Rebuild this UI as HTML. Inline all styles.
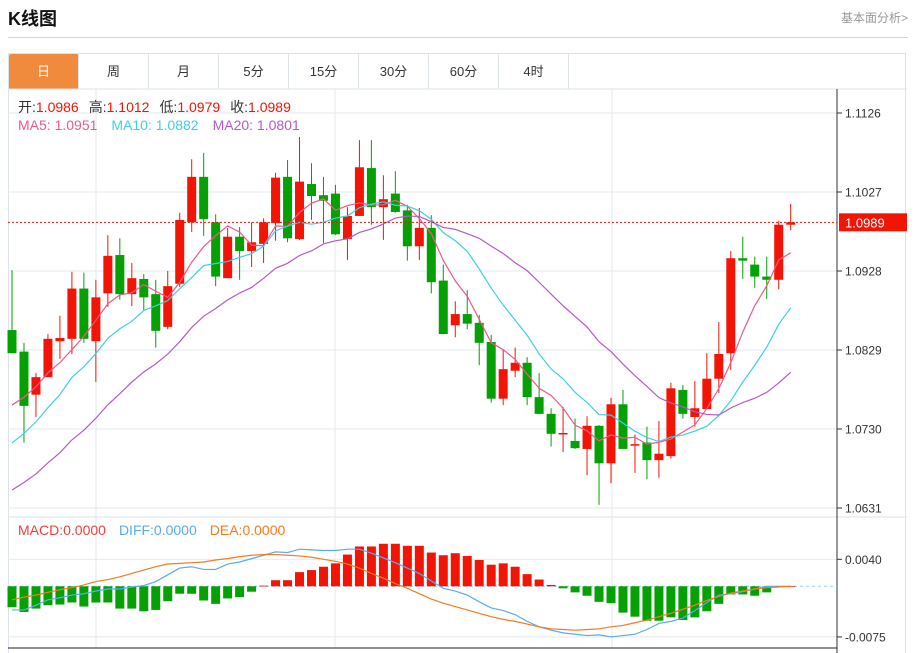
<!DOCTYPE html>
<html><head><meta charset="utf-8">
<style>
body{margin:0;background:#fff;font-family:"Liberation Sans","Noto Sans CJK SC",sans-serif;}
#wrap{position:relative;width:920px;height:653px;overflow:hidden;}
.title{position:absolute;left:8px;top:5px;font-size:18px;font-weight:bold;color:#111;}
.more{position:absolute;right:12px;top:9px;font-size:12px;color:#999;}
.hr{position:absolute;left:8px;width:900px;top:37px;height:1px;background:#d5d5d5;}
.box{position:absolute;left:8px;top:53px;width:898px;height:600px;border:1px solid #dde3ea;border-bottom:none;box-sizing:border-box;}
.tabs{position:absolute;left:9px;top:54px;height:35px;display:flex;}
.tab{width:69px;height:35px;border-right:1px solid #dde3ea;text-align:center;line-height:35px;font-size:13px;color:#333;}
.tab.on{background:#f08a3d;color:#fff;border-radius:2px 2px 0 0;}
svg{position:absolute;left:0;top:0;}
</style></head><body>
<div id="wrap">
<div class="title">K线图</div>
<div class="more">基本面分析&gt;</div>
<div class="hr"></div>
<div class="box"></div>
<div class="tabs">
<div class="tab on">日</div>
<div class="tab">周</div>
<div class="tab">月</div>
<div class="tab">5分</div>
<div class="tab">15分</div>
<div class="tab">30分</div>
<div class="tab">60分</div>
<div class="tab">4时</div>
</div>
<svg id="chart" width="920" height="653"></svg>
</div>
<script>
const opens=[1.0854,1.0827,1.0773,1.0795,1.0840,1.0843,1.0906,1.0840,1.0900,1.0948,1.0899,1.0918,1.0899,1.0858,1.0912,1.0989,1.1046,1.0989,1.0919,1.0971,1.0953,1.0962,1.0988,1.1046,1.0968,1.1037,1.1023,1.1025,1.0968,1.0997,1.1057,1.1008,1.1025,1.1004,1.0959,1.0982,1.0916,1.0860,1.0874,1.0863,1.0839,1.0768,1.0803,1.0813,1.0770,1.0749,1.0724,1.0715,1.0705,1.0734,1.0687,1.0761,1.0710,1.0713,1.0691,1.0696,1.0779,1.0745,1.0755,1.0793,1.0825,1.0944,1.0936,1.0921,1.0917,1.0986];
const closes=[1.0825,1.0759,1.0795,1.0843,1.0844,1.0906,1.0843,1.0895,1.0947,1.0899,1.0919,1.0895,1.0853,1.0909,1.0992,1.1046,1.0993,1.0921,1.0971,1.0953,1.0964,1.0989,1.1045,1.0969,1.1040,1.1022,1.1016,1.0974,1.0997,1.1058,1.1008,1.1018,1.1002,1.0959,1.0982,1.0914,1.0849,1.0874,1.0862,1.0838,1.0768,1.0805,1.0813,1.0770,1.0749,1.0724,1.0725,1.0706,1.0734,1.0687,1.0761,1.0705,1.0711,1.0691,1.0699,1.0781,1.0749,1.0756,1.0793,1.0824,1.0944,1.0941,1.0921,1.0917,1.0986,1.0989];
const highs=[1.0929,1.0838,1.0800,1.0849,1.0872,1.0927,1.0926,1.0917,1.0973,1.0969,1.0938,1.0924,1.0917,1.0928,1.1001,1.1068,1.1076,1.0999,1.0982,1.0983,1.0989,1.0994,1.1051,1.1067,1.1096,1.1063,1.1046,1.1036,1.1008,1.1092,1.1092,1.1048,1.1053,1.1011,1.1007,1.0998,1.0936,1.0890,1.0904,1.0873,1.0848,1.0829,1.0832,1.0820,1.0800,1.0756,1.0758,1.0743,1.0746,1.0735,1.0769,1.0779,1.0723,1.0733,1.0740,1.0788,1.0785,1.0790,1.0825,1.0864,1.0953,1.0971,1.0946,1.0946,1.0991,1.1012];
const lows=[1.0825,1.0713,1.0745,1.0795,1.0818,1.0824,1.0838,1.0789,1.0883,1.0892,1.0884,1.0879,1.0832,1.0855,1.0908,1.0977,1.0972,1.0909,1.0919,1.0917,1.0933,1.0938,1.0966,1.0964,1.0967,1.0992,1.0963,1.0973,1.0942,1.0997,1.0986,1.0967,1.1001,1.0941,1.0942,1.0900,1.0849,1.0845,1.0855,1.0810,1.0763,1.0760,1.0795,1.0760,1.0749,1.0708,1.0701,1.0705,1.0672,1.0635,1.0662,1.0705,1.0675,1.0667,1.0669,1.0693,1.0743,1.0733,1.0755,1.0775,1.0804,1.0918,1.0907,1.0893,1.0905,1.0979];
const priorCloses=[1.0570,1.0580,1.0565,1.0590,1.0585,1.0600,1.0595,1.0610,1.0620,1.0630,1.0640,1.0650,1.0665,1.0680,1.0690,1.0710,1.0730,1.0755,1.0780];
const priceTicks=[1.1126,1.1027,1.0928,1.0829,1.0730,1.0631];
const macdBars=[-0.0031,-0.0038,-0.0033,-0.0028,-0.0027,-0.0024,-0.0030,-0.0024,-0.0024,-0.0033,-0.0033,-0.0037,-0.0035,-0.0022,-0.0011,-0.0011,-0.0021,-0.0026,-0.0018,-0.0016,-0.0008,0.0001,0.0009,0.0009,0.0021,0.0024,0.0029,0.0034,0.0047,0.0059,0.0059,0.0063,0.0063,0.0060,0.0060,0.0050,0.0046,0.0049,0.0045,0.0039,0.0032,0.0034,0.0029,0.0018,0.0010,0.0002,-0.0003,-0.0009,-0.0014,-0.0023,-0.0025,-0.0039,-0.0045,-0.0051,-0.0051,-0.0046,-0.0050,-0.0046,-0.0037,-0.0026,-0.0012,-0.0012,-0.0014,-0.0009,-0.0001,0];
const diffVals=[-0.0035,-0.0035,-0.0028,-0.0020,-0.0017,-0.0013,-0.0011,-0.0007,-0.0004,-0.0004,-0.0001,0.0001,0.0007,0.0017,0.0027,0.0029,0.0025,0.0025,0.0033,0.0036,0.0041,0.0046,0.0051,0.0050,0.0055,0.0054,0.0053,0.0053,0.0055,0.0055,0.0049,0.0042,0.0035,0.0027,0.0019,0.0008,-0.0003,-0.0007,-0.0013,-0.0023,-0.0032,-0.0036,-0.0042,-0.0052,-0.0060,-0.0065,-0.0069,-0.0071,-0.0073,-0.0072,-0.0075,-0.0073,-0.0071,-0.0064,-0.0055,-0.0052,-0.0047,-0.0036,-0.0024,-0.0013,-0.0011,-0.0008,-0.0004,0,0,0];
const deaVals=[-0.0020,-0.0016,-0.0013,-0.0009,-0.0005,-0.0002,0.0002,0.0007,0.0010,0.0014,0.0019,0.0024,0.0029,0.0033,0.0034,0.0035,0.0036,0.0039,0.0041,0.0044,0.0046,0.0047,0.0047,0.0046,0.0045,0.0043,0.0040,0.0037,0.0033,0.0027,0.0019,0.0012,0.0004,-0.0003,-0.0011,-0.0019,-0.0025,-0.0030,-0.0035,-0.0040,-0.0045,-0.0049,-0.0052,-0.0056,-0.0060,-0.0063,-0.0064,-0.0065,-0.0064,-0.0063,-0.0060,-0.0058,-0.0054,-0.0050,-0.0045,-0.0040,-0.0034,-0.0028,-0.0021,-0.0015,-0.0010,-0.0007,-0.0004,-0.0002,-0.0001,0];
const macdTicks=[0.0040,-0.0075];

const NS='http://www.w3.org/2000/svg';
const svg=document.getElementById('chart');
function mk(tag,attrs,parent){const e=document.createElementNS(NS,tag);for(const k in attrs)e.setAttribute(k,attrs[k]);(parent||svg).appendChild(e);return e;}
const RED='#f21405',GREEN='#04a004';
const xOf=i=>12+i*11.98;
const yP=v=>113+(1.1126-v)/0.0495*395;
const yM=v=>586.3-v/0.004*27;

[96,335,612].forEach(x=>{const l=mk('line',{x1:x,y1:89,x2:x,y2:648,stroke:'#e3e9ef'});

});
mk('line',{x1:8,y1:89,x2:907,y2:89,stroke:'#dde3ea'});
priceTicks.forEach(t=>{const y=yP(t);
const g=mk('line',{x1:8,y1:y,x2:837,y2:y,stroke:'#e3e9ef'});


mk('line',{x1:837,y1:y,x2:842,y2:y,stroke:'#333'});
const tx=mk('text',{x:845,y:y+4.5,'font-size':12,fill:'#333'});tx.textContent=t.toFixed(4);

});
mk('line',{x1:8,y1:517,x2:907,y2:517,stroke:'#dde3ea'});
macdTicks.forEach(t=>{const y=yM(t);
const g=mk('line',{x1:8,y1:y,x2:837,y2:y,stroke:'#e3e9ef'});


mk('line',{x1:837,y1:y,x2:842,y2:y,stroke:'#333'});
const tx=mk('text',{x:845,y:y+4.5,'font-size':12,fill:'#333'});tx.textContent=t.toFixed(4);

});
mk('line',{x1:8,y1:648,x2:837,y2:648,stroke:'#222'});
mk('line',{x1:837,y1:89,x2:837,y2:653,stroke:'#333'});

for(let i=0;i<closes.length;i++){
 const up=closes[i]>=opens[i],c=up?RED:GREEN,x=xOf(i);
 const g=mk('g',{});
 
 
 mk('line',{x1:x,y1:yP(highs[i]),x2:x,y2:yP(lows[i]),stroke:c,'stroke-width':1},g);
 const t=Math.min(yP(opens[i]),yP(closes[i])),h=Math.max(1.5,Math.abs(yP(opens[i])-yP(closes[i])));
 mk('rect',{x:x-4.5,y:t,width:9,height:h,fill:c},g);
}
const all=priorCloses.concat(closes);
function ma(n){return closes.map((_,i)=>{const e=i+priorCloses.length;let s=0,c=0;for(let k=e-n+1;k<=e;k++){if(k>=0){s+=all[k];c++;}}return s/c;});}
[[5,'#f0588a','ma5-line'],[10,'#3fcfe0','ma10-line'],[20,'#b45ac8','ma20-line']].forEach(([n,col,name])=>{
 const v=ma(n);const p=mk('polyline',{points:v.map((y,i)=>xOf(i)+','+yP(y)).join(' '),fill:'none',stroke:col,'stroke-width':1.2});
 
 });
const cy=yP(closes[closes.length-1]);
mk('line',{x1:8,y1:cy,x2:837,y2:cy,stroke:RED,'stroke-dasharray':'2,2'});
mk('rect',{x:839,y:cy-9,width:68,height:18,fill:RED});
const cp=mk('text',{x:845,y:cy+5,'font-size':13,fill:'#fff'});cp.textContent=closes[closes.length-1].toFixed(4);



mk('line',{x1:8,y1:yM(0),x2:837,y2:yM(0),stroke:'#8fd0ec','stroke-dasharray':'3,3'});
macdBars.forEach((v,i)=>{const y0=yM(0),y1=yM(v);
 const r=mk('rect',{x:xOf(i)-4.5,y:Math.min(y0,y1),width:9,height:Math.max(0.8,Math.abs(y1-y0)),fill:v>=0?RED:GREEN});
 
 });
[[diffVals,'#5aaaf0','diff-line'],[deaVals,'#f57a20','dea-line']].forEach(([arr,col,name])=>{
 const p=mk('polyline',{points:arr.map((v,i)=>xOf(i)+','+yM(v)).join(' '),fill:'none',stroke:col,'stroke-width':1.2});
 
 });

function txt(parts,y,name){const t=mk('text',{x:18,y:y,'font-size':14});
 parts.forEach(([s,c,dx])=>{const ts=mk('tspan',{fill:c},t);if(dx)ts.setAttribute('dx',dx);ts.textContent=s;});}
txt([['开:','#333'],['1.0986',RED],['高:','#333',10],['1.1012',RED],['低:','#333',10],['1.0979',RED],['收:','#333',10],['1.0989',RED]],112,'ohlc-legend');
txt([['MA5: 1.0951','#f0588a'],['MA10: 1.0882','#3fcfe0',14],['MA20: 1.0801','#b45ac8',14]],130,'ma-legend');
txt([['MACD:0.0000','#f23d3d'],['DIFF:0.0000','#5aaaf0',13],['DEA:0.0000','#f57a20',13]],535,'macd-legend');
</script>
</body></html>
